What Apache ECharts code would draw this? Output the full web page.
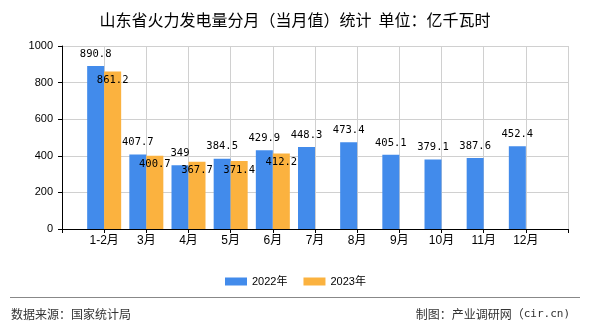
<!DOCTYPE html>
<html>
<head>
<meta charset="utf-8">
<script src="https://cdn.jsdelivr.net/npm/echarts@6/dist/echarts.min.js"></script>
<style>html,body{margin:0;padding:0;background:#fff}#c{width:590px;height:330px}</style>
</head>
<body>
<div id="c"></div>
<script>
var categories = ['', '1-2月', '3月', '4月', '5月', '6月', '7月', '8月', '9月', '10月', '11月', '12月', ''];
var values2022 = [null, 890.8, 407.7, 349, 384.5, 429.9, 448.3, 473.4, 405.1, 379.1, 387.6, 452.4, null];
var values2023 = [null, 861.2, 400.7, 367.7, 371.4, 412.2, null, null, null, null, null, null, null];
var seriesNames = ['2022年', '2023年'];
var yTicks = [0, 200, 400, 600, 800, 1000];

var cjk = '"Liberation Sans", "Noto Sans CJK SC", sans-serif';
var cjkOnly = '"Noto Sans CJK SC", sans-serif';
var mono = '"DejaVu Sans Mono", "Liberation Mono", monospace';
var chart = echarts.init(document.getElementById('c'), null, {renderer: 'canvas'});
chart.setOption({
  animation: false,
  backgroundColor: '#fff',
  title: {
    text: '山东省火力发电量分月（当月值）统计  单位：亿千瓦时',
    left: 'center', top: 7,
    textStyle: {fontSize: 16, fontWeight: 'normal', color: '#000', fontFamily: cjkOnly}
  },
  legend: {
    left: 220, top: 271,
    itemWidth: 22, itemHeight: 8, itemGap: 16,
    icon: 'rect',
    textStyle: {fontSize: 11, color: '#000', fontFamily: cjk},
    data: seriesNames
  },
  grid: {left: 62, right: 22, top: 46, bottom: 101, containLabel: false},
  xAxis: {
    type: 'category',
    data: categories,
    boundaryGap: false,
    axisLine: {lineStyle: {color: '#000', width: 1}},
    axisTick: {show: true, length: 4, lineStyle: {color: '#000'}},
    axisLabel: {margin: 6, fontSize: 12, color: '#000', fontFamily: cjk, interval: 0},
    splitLine: {show: true, lineStyle: {color: '#d0d0d0', width: 1}}
  },
  yAxis: {
    type: 'value',
    min: yTicks[0], max: yTicks[yTicks.length - 1], interval: 200,
    axisLine: {show: true, lineStyle: {color: '#000', width: 1}},
    axisTick: {show: true, length: 4, lineStyle: {color: '#000'}},
    axisLabel: {margin: 9, fontSize: 11, color: '#000', fontFamily: cjk, formatter: function (v) { return String(v); }},
    splitLine: {show: true, lineStyle: {color: '#d0d0d0', width: 1}}
  },
  series: [
    {
      name: seriesNames[0], type: 'bar', data: values2022,
      barWidth: 17, barGap: '0%',
      itemStyle: {color: '#428BEB'},
      label: {show: true, position: 'top', distance: 6, fontSize: 10.5, lineHeight: 12, color: '#000', fontFamily: mono}
    },
    {
      name: seriesNames[1], type: 'bar', data: values2023,
      barWidth: 17, barGap: '0%',
      itemStyle: {color: '#FBB23F'},
      label: {show: true, position: 'insideTop', distance: 3, fontSize: 10.5, lineHeight: 12, color: '#000', fontFamily: mono}
    }
  ],
  graphic: [
    {type: 'line', shape: {x1: 10, y1: 297.5, x2: 580, y2: 297.5}, style: {stroke: '#888', lineWidth: 1}},
    {type: 'text', left: 11, top: 308, style: {text: '数据来源：国家统计局', fontSize: 12, fill: '#333', fontFamily: cjkOnly}},
    {type: 'text', right: 20, top: 308, style: {
      text: '{a|制图：产业调研网（}{b|cir.cn)}',
      rich: {
        a: {fontSize: 12, fill: '#333', color: '#333', fontFamily: cjkOnly},
        b: {fontSize: 11, fill: '#333', color: '#333', fontFamily: mono}
      }
    }}
  ]
});
</script>
</body>
</html>
